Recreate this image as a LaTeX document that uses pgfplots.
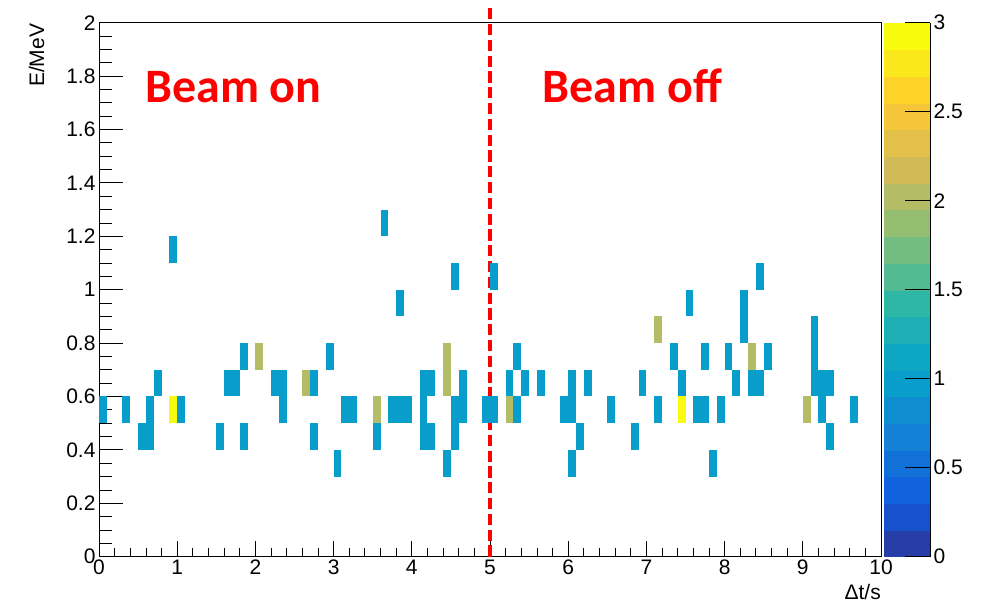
\documentclass[border=0pt]{standalone}
\usepackage{fontspec}
\setmainfont{Liberation Sans}
\newfontfamily\carlito{Carlito}
\usepackage{pgfplots}
\pgfplotsset{compat=1.18}
\pgfdeclareplotmark{cell}{\pgfpathrectangle{\pgfqpoint{-3.91pt}{-13.35pt}}{\pgfqpoint{7.82pt}{26.7pt}}\pgfusepath{fill}}
\begin{document}
\begin{tikzpicture}
\useasboundingbox (-99pt,-47.3pt) rectangle (885pt,556.7pt);
\begin{axis}[
  at={(0,0)}, anchor=south west,
  x=78.2pt, y=267pt,
  xmin=0, xmax=10, ymin=0, ymax=2,
  clip=false,
  axis line style={line width=0.8pt, black},
  tick align=inside,
  xtick pos=bottom, ytick pos=left,
  xtick={0,1,2,3,4,5,6,7,8,9,10},
  xticklabels={0,1,2,3,4,5,6,7,8,9,10},
  ytick={0,0.2,0.4,0.6,0.8,1,1.2,1.4,1.6,1.8,2},
  yticklabels={0,0.2,0.4,0.6,0.8,1,1.2,1.4,1.6,1.8,2},
  minor x tick num=4, minor y tick num=3,
  major tick length=24pt, minor tick length=12.7pt,
  xtick style={/pgfplots/major tick length=16pt, /pgfplots/minor tick length=8.3pt},
  every tick/.style={black, line width=0.8pt},
  tick label style={font=\fontsize{21}{21}\selectfont},
  xlabel={Δt/s}, 
  xlabel style={font=\fontsize{21}{21}\selectfont, at={(axis description cs:1,-0.0800)}, anchor=base east, inner sep=0pt},
  ylabel={E/MeV},
  ylabel style={font=\fontsize{21}{21}\selectfont, at={(axis description cs:-0.0703,0.998)}, anchor=base east, inner sep=0pt},
  point meta min=0, point meta max=3,
  colormap access=piecewise constant,
  colormap={bird}{
    rgb=(0.152,0.240,0.658) rgb=(0.091,0.319,0.796) rgb=(0.063,0.388,0.863)
    rgb=(0.070,0.443,0.851) rgb=(0.078,0.502,0.839) rgb=(0.056,0.558,0.820)
    rgb=(0.034,0.615,0.801) rgb=(0.052,0.656,0.765) rgb=(0.116,0.687,0.704)
    rgb=(0.180,0.718,0.643) rgb=(0.324,0.731,0.570) rgb=(0.456,0.743,0.504)
    rgb=(0.587,0.746,0.443) rgb=(0.705,0.739,0.396) rgb=(0.821,0.734,0.348)
    rgb=(0.888,0.754,0.290) rgb=(0.961,0.776,0.227) rgb=(0.992,0.828,0.166)
    rgb=(0.984,0.909,0.108) rgb=(0.976,0.983,0.054)
  },
  colorbar,
  colorbar style={
    at={(parent axis.north east)}, anchor=north west, xshift=-6.2pt,
    width=46.7pt, height=534pt, scale only axis,
    axis line style={draw=none},
    xtick=\empty,
    ytick pos=right, yticklabel pos=right,
    ytick={0,0.5,1,1.5,2,2.5,3},
    yticklabels={0,0.5,1,1.5,2,2.5,3},
    minor y tick num=0,
    tick align=inside, major tick length=25pt,
    every tick/.style={black, line width=0.8pt},
    yticklabel style={font=\fontsize{21}{21}\selectfont},
    after end axis/.code={
      \draw[black, line width=0.8pt] (rel axis cs:1,0) -- (rel axis cs:1,1);
      \foreach \v in {0,1,2,3,4,5,6}{
        \draw[black, line width=0.8pt] (rel axis cs:1,{\v/6}) -- ++(-25pt,0pt);
      }
    },
  },
]
\addplot[scatter, only marks, mark=cell, scatter src=explicit]
  table[x=x, y=y, meta=c] {
x y c
3.05 0.35 1
4.45 0.35 1
6.05 0.35 1
7.85 0.35 1
0.55 0.45 1
0.65 0.45 1
1.55 0.45 1
1.85 0.45 1
2.75 0.45 1
3.55 0.45 1
4.15 0.45 1
4.25 0.45 1
4.55 0.45 1
6.15 0.45 1
6.85 0.45 1
9.35 0.45 1
0.05 0.55 1
0.35 0.55 1
0.65 0.55 1
0.95 0.55 3
1.05 0.55 1
2.35 0.55 1
3.15 0.55 1
3.25 0.55 1
3.55 0.55 2
3.75 0.55 1
3.85 0.55 1
3.95 0.55 1
4.15 0.55 1
4.55 0.55 1
4.65 0.55 1
4.95 0.55 1
5.05 0.55 1
5.25 0.55 2
5.35 0.55 1
5.95 0.55 1
6.05 0.55 1
6.55 0.55 1
7.15 0.55 1
7.45 0.55 3
7.65 0.55 1
7.75 0.55 1
7.95 0.55 1
9.05 0.55 2
9.25 0.55 1
9.65 0.55 1
0.75 0.65 1
1.65 0.65 1
1.75 0.65 1
2.25 0.65 1
2.35 0.65 1
2.65 0.65 2
2.75 0.65 1
4.15 0.65 1
4.25 0.65 1
4.45 0.65 2
4.65 0.65 1
5.25 0.65 1
5.45 0.65 1
5.65 0.65 1
6.05 0.65 1
6.25 0.65 1
6.95 0.65 1
7.45 0.65 1
8.15 0.65 1
8.35 0.65 1
8.45 0.65 1
9.15 0.65 1
9.25 0.65 1
9.35 0.65 1
1.85 0.75 1
2.05 0.75 2
2.95 0.75 1
4.45 0.75 2
5.35 0.75 1
7.35 0.75 1
7.75 0.75 1
8.05 0.75 1
8.35 0.75 2
8.55 0.75 1
9.15 0.75 1
7.15 0.85 2
8.25 0.85 1
9.15 0.85 1
3.85 0.95 1
7.55 0.95 1
8.25 0.95 1
4.55 1.05 1
5.05 1.05 1
8.45 1.05 1
0.95 1.15 1
3.65 1.25 1
};
\addplot[red, line width=3.5pt, dash pattern=on 11.3pt off 4.5pt] coordinates {(5,0) (5,2.055)};
\node[anchor=base west, inner sep=0pt, text=red, font=\carlito\bfseries\fontsize{48}{48}\selectfont] at (axis cs:0.59,1.70) {Beam on};
\node[anchor=base west, inner sep=0pt, text=red, font=\carlito\bfseries\fontsize{48}{48}\selectfont] at (axis cs:5.67,1.70) {Beam off};
\end{axis}
\end{tikzpicture}
\end{document}
